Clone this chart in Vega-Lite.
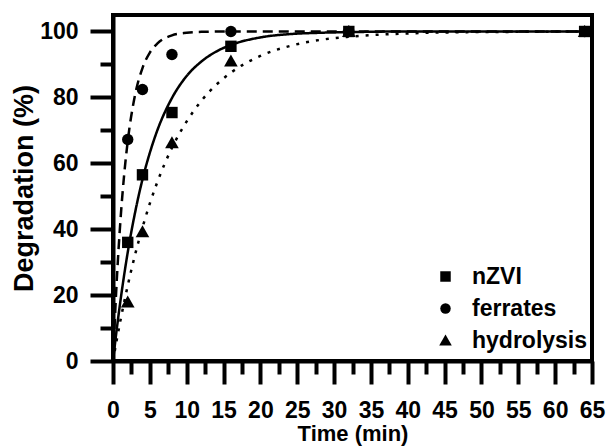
{
  "$schema": "https://vega.github.io/schema/vega-lite/v6.json",
  "width": 479,
  "height": 346,
  "autosize": "none",
  "padding": {"left": 113, "top": 15, "right": 16, "bottom": 87},
  "background": "white",
  "config": {
    "view": {"stroke": "black", "strokeWidth": 4},
    "font": "Liberation Sans",
    "axis": {
      "tickWidth": 4,
      "tickColor": "black",
      "domainColor": "black",
      "domainWidth": 4,
      "grid": false,
      "labelFontSize": 23,
      "labelFontWeight": "bold",
      "labelColor": "black",
      "labelOverlap": false,
      "titleFontWeight": "bold",
      "titleColor": "black"
    },
    "legend": {
      "labelFontSize": 23,
      "labelFontWeight": "bold",
      "labelColor": "black",
      "symbolFillColor": "black",
      "symbolStrokeColor": "black",
      "symbolSize": 110,
      "labelOffset": 15,
      "rowPadding": 8
    }
  },
  "datasets": {
    "points": [
      {"series": "nZVI", "t": 2, "deg": 36},
      {"series": "nZVI", "t": 4, "deg": 56.5},
      {"series": "nZVI", "t": 8, "deg": 75.4},
      {"series": "nZVI", "t": 16, "deg": 95.5},
      {"series": "nZVI", "t": 32, "deg": 100},
      {"series": "nZVI", "t": 64, "deg": 100},
      {"series": "ferrates", "t": 2, "deg": 67.2},
      {"series": "ferrates", "t": 4, "deg": 82.4},
      {"series": "ferrates", "t": 8, "deg": 93},
      {"series": "ferrates", "t": 16, "deg": 100},
      {"series": "ferrates", "t": 32, "deg": 100},
      {"series": "ferrates", "t": 64, "deg": 100},
      {"series": "hydrolysis", "t": 2, "deg": 17.9},
      {"series": "hydrolysis", "t": 4, "deg": 39.2},
      {"series": "hydrolysis", "t": 8, "deg": 66.2},
      {"series": "hydrolysis", "t": 16, "deg": 91},
      {"series": "hydrolysis", "t": 32, "deg": 100},
      {"series": "hydrolysis", "t": 64, "deg": 100}
    ],
    "curves": [
      {"fit": "nZVI fit", "t": 0, "deg": 0},
      {"fit": "nZVI fit", "t": 0.5, "deg": 9.5},
      {"fit": "nZVI fit", "t": 1, "deg": 18.1},
      {"fit": "nZVI fit", "t": 1.5, "deg": 25.9},
      {"fit": "nZVI fit", "t": 2, "deg": 33},
      {"fit": "nZVI fit", "t": 3, "deg": 45.1},
      {"fit": "nZVI fit", "t": 4, "deg": 55.1},
      {"fit": "nZVI fit", "t": 5, "deg": 63.2},
      {"fit": "nZVI fit", "t": 6, "deg": 69.9},
      {"fit": "nZVI fit", "t": 8, "deg": 79.8},
      {"fit": "nZVI fit", "t": 10, "deg": 86.5},
      {"fit": "nZVI fit", "t": 12, "deg": 90.9},
      {"fit": "nZVI fit", "t": 14, "deg": 93.9},
      {"fit": "nZVI fit", "t": 16, "deg": 95.9},
      {"fit": "nZVI fit", "t": 20, "deg": 98.2},
      {"fit": "nZVI fit", "t": 24, "deg": 99.2},
      {"fit": "nZVI fit", "t": 28, "deg": 99.6},
      {"fit": "nZVI fit", "t": 32, "deg": 99.8},
      {"fit": "nZVI fit", "t": 40, "deg": 100},
      {"fit": "nZVI fit", "t": 64, "deg": 100},
      {"fit": "ferrates fit", "t": 0, "deg": 0},
      {"fit": "ferrates fit", "t": 0.5, "deg": 24},
      {"fit": "ferrates fit", "t": 1, "deg": 42.3},
      {"fit": "ferrates fit", "t": 1.5, "deg": 56.2},
      {"fit": "ferrates fit", "t": 2, "deg": 66.7},
      {"fit": "ferrates fit", "t": 3, "deg": 80.8},
      {"fit": "ferrates fit", "t": 4, "deg": 88.9},
      {"fit": "ferrates fit", "t": 5, "deg": 93.6},
      {"fit": "ferrates fit", "t": 6, "deg": 96.3},
      {"fit": "ferrates fit", "t": 8, "deg": 98.8},
      {"fit": "ferrates fit", "t": 10, "deg": 99.6},
      {"fit": "ferrates fit", "t": 12, "deg": 99.9},
      {"fit": "ferrates fit", "t": 16, "deg": 100},
      {"fit": "ferrates fit", "t": 64, "deg": 100},
      {"fit": "hydrolysis fit", "t": 0, "deg": 0},
      {"fit": "hydrolysis fit", "t": 0.5, "deg": 6.3},
      {"fit": "hydrolysis fit", "t": 1, "deg": 12.2},
      {"fit": "hydrolysis fit", "t": 1.5, "deg": 17.7},
      {"fit": "hydrolysis fit", "t": 2, "deg": 22.9},
      {"fit": "hydrolysis fit", "t": 3, "deg": 32.3},
      {"fit": "hydrolysis fit", "t": 4, "deg": 40.5},
      {"fit": "hydrolysis fit", "t": 5, "deg": 47.8},
      {"fit": "hydrolysis fit", "t": 6, "deg": 54.2},
      {"fit": "hydrolysis fit", "t": 8, "deg": 64.7},
      {"fit": "hydrolysis fit", "t": 10, "deg": 72.7},
      {"fit": "hydrolysis fit", "t": 12, "deg": 79},
      {"fit": "hydrolysis fit", "t": 14, "deg": 83.8},
      {"fit": "hydrolysis fit", "t": 16, "deg": 87.5},
      {"fit": "hydrolysis fit", "t": 20, "deg": 92.6},
      {"fit": "hydrolysis fit", "t": 24, "deg": 95.6},
      {"fit": "hydrolysis fit", "t": 28, "deg": 97.4},
      {"fit": "hydrolysis fit", "t": 32, "deg": 98.4},
      {"fit": "hydrolysis fit", "t": 40, "deg": 99.4},
      {"fit": "hydrolysis fit", "t": 48, "deg": 99.8},
      {"fit": "hydrolysis fit", "t": 56, "deg": 99.9},
      {"fit": "hydrolysis fit", "t": 64, "deg": 100}
    ]
  },
  "resolve": {"axis": {"x": "independent", "y": "independent"}},
  "layer": [
    {
      "data": {"name": "curves"},
      "mark": {"type": "line", "stroke": "black", "strokeWidth": 2.5, "interpolate": "monotone", "clip": true},
      "encoding": {
        "x": {
          "field": "t",
          "type": "quantitative",
          "scale": {"domain": [0, 65], "nice": false, "zero": false},
          "axis": {
            "orient": "bottom",
            "title": "Time (min)",
            "values": [0, 5, 10, 15, 20, 25, 30, 35, 40, 45, 50, 55, 60, 65],
            "tickSize": 23,
            "labelPadding": 15,
            "labelFlush": false,
            "titleFontSize": 22,
            "titlePadding": 1
          }
        },
        "y": {
          "field": "deg",
          "type": "quantitative",
          "scale": {"domain": [0, 105], "nice": false},
          "axis": {
            "orient": "left",
            "title": "Degradation (%)",
            "values": [0, 20, 40, 60, 80, 100],
            "tickSize": 23,
            "labelPadding": 12,
            "titleFontSize": 27,
            "titlePadding": 1
          }
        },
        "strokeDash": {
          "field": "fit",
          "type": "nominal",
          "scale": {"domain": ["nZVI fit", "ferrates fit", "hydrolysis fit"], "range": [[1, 0], [10, 6], [3, 7]]},
          "legend": null
        }
      }
    },
    {
      "data": {"name": "points"},
      "mark": {"type": "point", "filled": true, "color": "black", "opacity": 1, "size": 130},
      "encoding": {
        "x": {
          "field": "t",
          "type": "quantitative",
          "axis": {
            "orient": "bottom",
            "title": null,
            "values": [2.5, 7.5, 12.5, 17.5, 22.5, 27.5, 32.5, 37.5, 42.5, 47.5, 52.5, 57.5, 62.5],
            "tickSize": 13,
            "labels": false,
            "domain": false
          }
        },
        "y": {
          "field": "deg",
          "type": "quantitative",
          "axis": {
            "orient": "left",
            "title": null,
            "values": [10, 30, 50, 70, 90],
            "tickSize": 13,
            "labels": false,
            "domain": false
          }
        },
        "shape": {
          "field": "series",
          "type": "nominal",
          "scale": {"domain": ["nZVI", "ferrates", "hydrolysis"], "range": ["square", "circle", "M0,-1.15L1.2,0.95L-1.2,0.95Z"]},
          "legend": {
            "title": null,
            "orient": "none",
            "legendX": 321,
            "legendY": 250,
            "padding": 0
          }
        }
      }
    }
  ]
}
